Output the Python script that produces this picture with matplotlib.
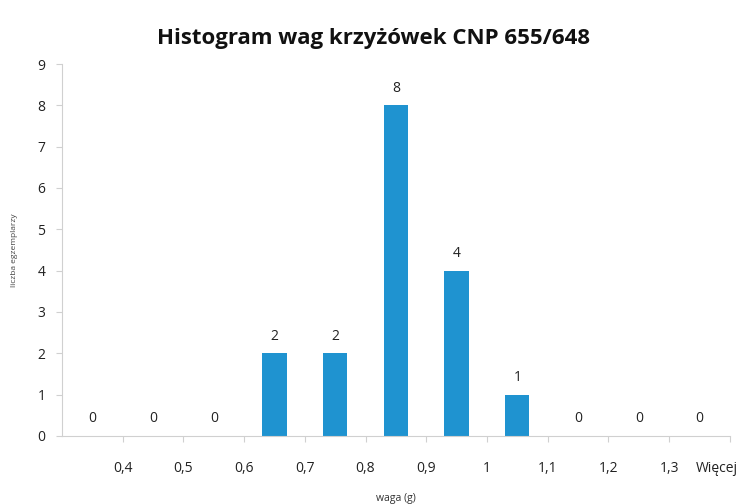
import matplotlib.pyplot as plt
import matplotlib.transforms as mtransforms
import numpy as np

# przedziały wag i liczebności
przedzialy = ['0,4', '0,5', '0,6', '0,7', '0,8', '0,9', '1', '1,1', '1,2', '1,3', 'Więcej']
liczebnosc = [0, 0, 0, 2, 2, 8, 4, 1, 0, 0, 0]

plt.rcParams['font.family'] = ['Open Sans', 'DejaVu Sans']

fig = plt.figure(figsize=(7.47, 5.04), dpi=100)
ax = fig.add_axes([0.083, 0.135, 0.894, 0.738])

x = np.arange(len(liczebnosc))
bars = ax.bar(x, liczebnosc, width=0.4, color='#1f93d0')

for b, v in zip(bars, liczebnosc):
    ax.annotate(str(v), (b.get_x() + b.get_width() / 2, v),
                xytext=(0, 7), textcoords='offset points',
                ha='center', va='bottom', fontsize=10, color='#222222')

ax.set_xlim(-0.5, len(liczebnosc) - 0.5)
ax.set_ylim(0, 9)
ax.set_yticks(range(10))

# etykiety przedziałów na granicach słupków
ax.set_xticks(x + 0.5)
ax.set_xticklabels(przedzialy[:-1] + [''])
# ostatnia etykieta przesunięta w lewo, żeby zmieściła się w obrazku
ax.annotate(przedzialy[-1], (x[-1] + 0.5, 0), xycoords=('data', 'axes fraction'),
            xytext=(-9, -18), textcoords='offset points',
            ha='center', va='top', fontsize=10, color='#222222')

for s in ['top', 'right']:
    ax.spines[s].set_visible(False)
for s in ['left', 'bottom']:
    ax.spines[s].set_color('#d0d0d0')
ax.tick_params(axis='both', colors='#d0d0d0', labelcolor='#222222', labelsize=10, length=4)
ax.tick_params(axis='x', pad=14)
ax.tick_params(axis='y', pad=8)

ax.set_xlabel('waga (g)', fontsize=7.5, color='#333333', labelpad=12)
ax.set_ylabel('liczba egzemplarzy', fontsize=6, color='#444444', labelpad=14)

fig.suptitle('Histogram wag krzyżówek CNP 655/648', fontsize=16, fontweight='bold',
             y=0.945, color='#111111')

fig.savefig('out.png', dpi=100)
